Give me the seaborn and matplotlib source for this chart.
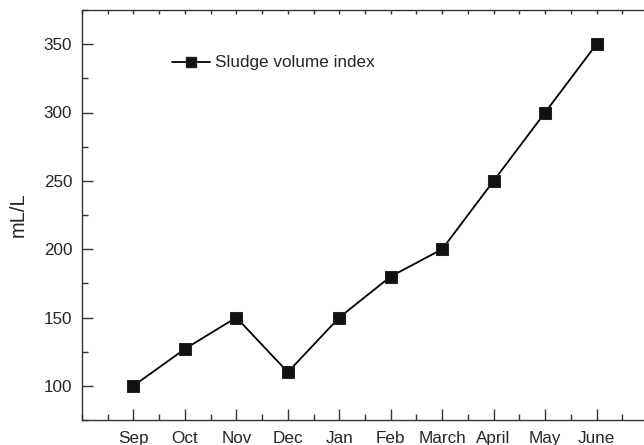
import matplotlib
matplotlib.use("Agg")
import matplotlib.pyplot as plt
from matplotlib.ticker import MultipleLocator
from matplotlib.lines import Line2D
import seaborn as sns
import pandas as pd

months = ["Sep", "Oct", "Nov", "Dec", "Jan", "Feb", "March", "April", "May", "June"]
svi = [100, 127, 150, 110, 150, 180, 200, 250, 300, 350]
series_label = "Sludge volume index"

sns.set_style("ticks")
plt.rcParams["font.family"] = ["Liberation Sans", "DejaVu Sans"]

df = pd.DataFrame({"pos": range(len(months)), "value": svi, "series": series_label})

fig = plt.figure(figsize=(6.44, 4.45), dpi=100)
ax = fig.add_axes([82 / 644, 1 - 420 / 445, (648 - 82) / 644, (420 - 10) / 445])

sns.lineplot(data=df, x="pos", y="value", hue="series", palette=["black"],
             marker="s", markersize=8, markeredgecolor="#222222",
             markerfacecolor="#111111", linewidth=1.3, ax=ax, legend=False)

ax.set_xlim(-1, 10)
ax.set_ylim(75, 375)
ax.set_xticks(range(len(months)))
ax.set_xticklabels(months)
ax.xaxis.set_minor_locator(MultipleLocator(0.5))
ax.set_yticks([100, 150, 200, 250, 300, 350])
ax.yaxis.set_minor_locator(MultipleLocator(25))

spine_col = "#333333"
for s in ax.spines.values():
    s.set_visible(True)
    s.set_color(spine_col)
    s.set_linewidth(1.0)

ax.tick_params(axis="both", which="major", direction="in", length=8, width=1.0,
               color=spine_col, labelsize=12.3)
ax.tick_params(axis="both", which="minor", direction="in", length=4, width=1.0,
               color=spine_col)
ax.tick_params(axis="y", which="major", pad=7)
ax.tick_params(axis="x", which="major", pad=8)

# short inward ticks along the top edge
top = ax.secondary_xaxis("top")
top.set_xticks([i * 0.5 - 1 for i in range(23)])
top.tick_params(direction="in", length=3, width=1.0, color=spine_col, labeltop=False)
top.spines["top"].set_visible(False)

ax.set_xlabel("")
ax.set_ylabel("mL/L", fontsize=14.5, va="center")
ax.yaxis.set_label_coords((18 - 82) / 566, (420 - 215) / 410)

handle = Line2D([], [], color="black", linewidth=1.3, marker="s", markersize=7,
                markerfacecolor="#111111", markeredgecolor="#222222")
ax.legend([handle], [series_label], loc="center left",
          bbox_to_anchor=((172 - 82) / 566, (420 - 63) / 410),
          frameon=False, fontsize=12.3, handlelength=2.2, handletextpad=0.3,
          borderaxespad=0, borderpad=0)

fig.savefig("out.png", dpi=100)
